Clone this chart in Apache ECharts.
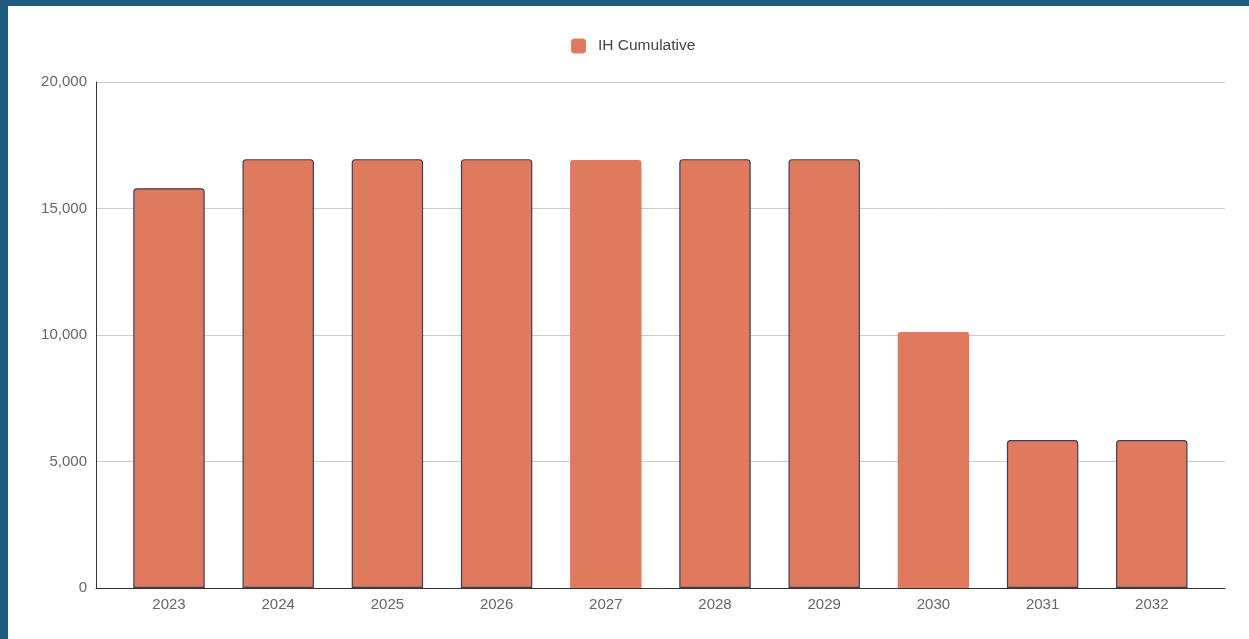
<!DOCTYPE html>
<html>
<head>
<meta charset="utf-8">
<title>IH Cumulative</title>
<script src="https://cdn.jsdelivr.net/npm/echarts@6/dist/echarts.min.js"></script>
<style>
  html, body {
    margin: 0;
    padding: 0;
    width: 1249px;
    height: 639px;
    background: #1f5c7e;
    overflow: hidden;
  }
  /* white panel inside the blue frame */
  #chart {
    position: absolute;
    left: 8px;
    top: 6px;
    width: 1241px;
    height: 633px;
    background: #ffffff;
  }
</style>
</head>
<body>
<div id="chart"></div>
<script>
// data
const years = ['2023', '2024', '2025', '2026', '2027', '2028', '2029', '2030', '2031', '2032']
const ihCumulative = [15800, 16950, 16950, 16950, 16920, 16950, 16950, 10120, 5850, 5850]
const yTicks = [0, 5000, 10000, 15000, 20000]

// bars drawn without the dark outline
const plainBars = ['2027', '2030']

const chart = echarts.init(document.getElementById('chart'))

const barColor = '#e07a5f'
const fmt = v => v.toLocaleString('en-US')
const yMin = yTicks[0]
const yMax = yTicks[yTicks.length - 1]

// grid 0: frame, gridlines, y labels (full width)
// grid 1: the bars, inset a little from both sides like the original
const option = {
  animation: false,
  textStyle: { fontFamily: 'Arial, "Liberation Sans", sans-serif' },
  legend: {
    top: 27,
    left: 558,
    icon: 'roundRect',
    itemWidth: 15,
    itemHeight: 15,
    itemStyle: { borderWidth: 0 },
    textStyle: { color: '#444', fontSize: 15.5, padding: [0, 0, 0, 7] },
    data: ['IH Cumulative']
  },
  grid: [
    { left: 88, right: 24, top: 76, bottom: 51, outerBoundsMode: 'none' },
    { left: 106.4, right: 42.6, top: 76, bottom: 51, outerBoundsMode: 'none' }
  ],
  xAxis: [
    {
      gridIndex: 0,
      type: 'category',
      data: years,
      axisLine: { lineStyle: { color: '#333', width: 1 } },
      axisTick: { show: false },
      axisLabel: { show: false }
    },
    {
      gridIndex: 1,
      type: 'category',
      data: years,
      axisLine: { show: false },
      axisTick: { show: false },
      axisLabel: { color: '#666', fontSize: 15, margin: 9 }
    }
  ],
  yAxis: [
    {
      gridIndex: 0,
      type: 'value',
      min: yMin,
      max: yMax,
      interval: yTicks[1] - yTicks[0],
      axisLine: { show: true, lineStyle: { color: '#333', width: 1 } },
      axisTick: { show: false },
      axisLabel: { color: '#666', fontSize: 15, margin: 9, padding: [4, 0, 0, 0], formatter: fmt },
      splitLine: { lineStyle: { color: '#cccccc', width: 1 } }
    },
    {
      gridIndex: 1,
      type: 'value',
      min: yMin,
      max: yMax,
      show: false
    }
  ],
  series: [
    {
      name: 'IH Cumulative',
      type: 'bar',
      xAxisIndex: 1,
      yAxisIndex: 1,
      barWidth: '65.4%',
      data: ihCumulative.map((v, i) => ({
        value: v,
        itemStyle: plainBars.includes(years[i])
          ? { borderWidth: 0 }
          : { borderColor: '#3b3f58', borderWidth: 1.2 }
      })),
      itemStyle: {
        color: barColor,
        borderRadius: [3, 3, 0, 0]
      }
    }
  ]
}

chart.setOption(option)
</script>
</body>
</html>
